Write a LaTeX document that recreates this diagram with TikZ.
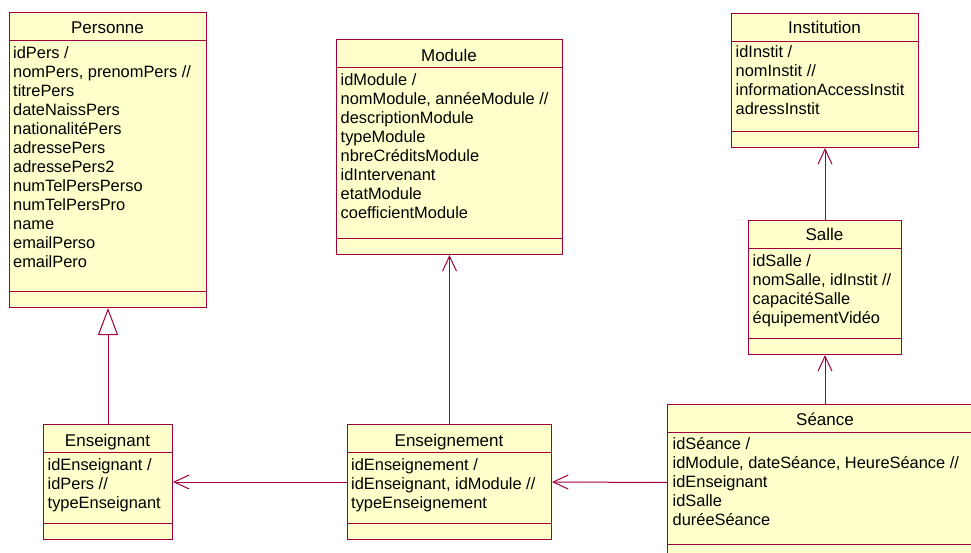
\documentclass[tikz,border=0pt]{standalone}
\usepackage{fontspec}
\setmainfont{Liberation Sans}
\usetikzlibrary{arrows.meta, positioning, calc}
\definecolor{bordeaux}{RGB}{160,0,60}
\definecolor{jaune}{RGB}{255,255,204}

\begin{document}
\begin{tikzpicture}[
    x=1pt, y=-1pt,
    classe/.style={rectangle, draw=bordeaux, fill=jaune, line width=1pt, inner sep=0pt, anchor=north west},
    titre/.style={anchor=base, inner sep=0pt, font=\fontsize{17}{19}\selectfont},
    attr/.style={anchor=north west, inner sep=0pt, align=left, font=\fontsize{16.4}{19}\selectfont},
    sep/.style={draw=bordeaux, line width=0.8pt},
    assoc/.style={draw=bordeaux, line width=1pt, -{Straight Barb[length=15pt,width=14pt]}},
    herit/.style={draw=bordeaux, line width=1pt, -{Triangle[open, length=27pt, width=20pt]}}
  ]
  \useasboundingbox (0,0) rectangle (971,553);
  \clip (0,0) rectangle (971,553);

  % ---- Personne ----
  \node[classe, minimum width=197pt, minimum height=295pt] (pers) at (9,12) {};
  \node[titre] (pers-t) at (107.5,34) {Personne};
  \node[attr] (pers-a) at (13,46.3) {idPers /\\nomPers, prenomPers //\\titrePers\\dateNaissPers\\nationalitéPers\\adressePers\\adressePers2\\numTelPersPerso\\numTelPersPro\\name\\emailPerso\\emailPero};
  \draw[sep] ([yshift=-28pt]pers.north west) -- ([yshift=-28pt]pers.north east);
  \draw[sep] ([yshift=17pt]pers.south west) -- ([yshift=17pt]pers.south east);

  % ---- Module ----
  \node[classe, minimum width=226pt, minimum height=215pt] (mod) at (336,39) {};
  \node[titre] (mod-t) at (449,62) {Module};
  \node[attr] (mod-a) at (340.5,73.3) {idModule /\\nomModule, annéeModule //\\descriptionModule\\typeModule\\nbreCréditsModule\\idIntervenant\\etatModule\\coefficientModule};
  \draw[sep] ([yshift=-28pt]mod.north west) -- ([yshift=-28pt]mod.north east);
  \draw[sep] ([yshift=17pt]mod.south west) -- ([yshift=17pt]mod.south east);

  % ---- Institution ----
  \node[classe, minimum width=187pt, minimum height=134pt] (inst) at (731,13) {};
  \node[titre] (inst-t) at (824.5,34) {Institution};
  \node[attr] (inst-a) at (735.5,45.8) {idInstit /\\nomInstit //\\informationAccessInstit\\adressInstit};
  \draw[sep] ([yshift=-28pt]inst.north west) -- ([yshift=-28pt]inst.north east);
  \draw[sep] ([yshift=17pt]inst.south west) -- ([yshift=17pt]inst.south east);

  % ---- Salle ----
  \node[classe, minimum width=153pt, minimum height=134pt] (salle) at (748,220) {};
  \node[titre] (salle-t) at (824.5,241) {Salle};
  \node[attr] (salle-a) at (752.5,254.3) {idSalle /\\nomSalle, idInstit //\\capacitéSalle\\équipementVidéo};
  \draw[sep] ([yshift=-28pt]salle.north west) -- ([yshift=-28pt]salle.north east);
  \draw[sep] ([yshift=17pt]salle.south west) -- ([yshift=17pt]salle.south east);

  % ---- Séance (coupée à droite) ----
  \node[classe, minimum width=360pt, minimum height=156pt] (seance) at (667,404) {};
  \coordinate (seance-n) at (seance.north -| salle.south);
  \node[titre] (seance-t) at (825,425) {Séance};
  \node[attr] (seance-a) at (672.5,437.5) {idSéance /\\idModule, dateSéance, HeureSéance //\\idEnseignant\\idSalle\\duréeSéance};
  \draw[sep] ([yshift=-28pt]seance.north west) -- ([yshift=-28pt]seance.north east);
  \draw[sep] ([yshift=17pt]seance.south west) -- ([yshift=17pt]seance.south east);

  % ---- Enseignant ----
  \node[classe, minimum width=129pt, minimum height=115pt] (ens) at (43,424) {};
  \node[titre] (ens-t) at (107.5,446) {Enseignant};
  \node[attr] (ens-a) at (47.5,458.3) {idEnseignant /\\idPers //\\typeEnseignant};
  \draw[sep] ([yshift=-28pt]ens.north west) -- ([yshift=-28pt]ens.north east);
  \draw[sep] ([yshift=17pt]ens.south west) -- ([yshift=17pt]ens.south east);

  % ---- Enseignement ----
  \node[classe, minimum width=204pt, minimum height=115pt] (ensmt) at (347,424) {};
  \node[titre] (ensmt-t) at (449,446) {Enseignement};
  \node[attr] (ensmt-a) at (351,458.3) {idEnseignement /\\idEnseignant, idModule //\\typeEnseignement};
  \draw[sep] ([yshift=-28pt]ensmt.north west) -- ([yshift=-28pt]ensmt.north east);
  \draw[sep] ([yshift=17pt]ensmt.south west) -- ([yshift=17pt]ensmt.south east);

  % Liens
  \draw[herit] (ens.north) -- (pers.south);
  \draw[assoc] (ensmt.north) -- (mod.south);
  \draw[assoc] (ensmt.west) -- (ens.east);
  \draw[assoc] (seance.west) -- (ensmt.east);
  \draw[assoc] (seance-n) -- (salle.south);
  \draw[assoc] (salle.north) -- (inst.south);
\end{tikzpicture}
\end{document}
